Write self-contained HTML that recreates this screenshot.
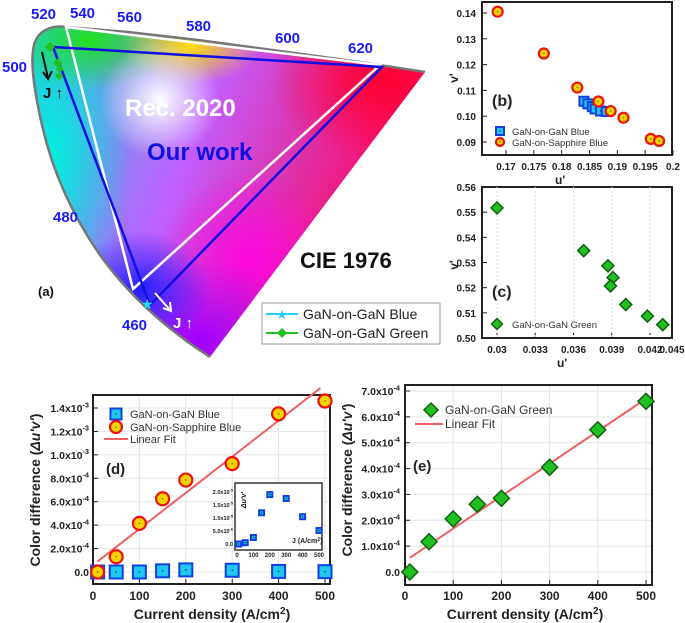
<!DOCTYPE html>
<html><head><meta charset="utf-8"><style>
html,body{margin:0;padding:0;background:#fff;}
svg{display:block;font-family:"Liberation Sans",Arial,sans-serif;}
</style></head><body>
<svg id="fig" width="685" height="623" viewBox="0 0 685 623" xmlns="http://www.w3.org/2000/svg">
<defs>
<clipPath id="hs"><path d="M425,72 L360,62 L287,52 L198,40 L128,32 L66,27 C52,25 38,30 34,45 C30,62 34,90 42,125 C52,170 72,215 100,255 C125,290 160,325 210,357 Z"/></clipPath>
<linearGradient id="base" x1="0" y1="0" x2="1" y2="0.3"><stop offset="0" stop-color="#00e0d0"/><stop offset="0.5" stop-color="#c060ff"/><stop offset="1" stop-color="#ff0050"/></linearGradient>
<radialGradient id="gG" cx="0.5" cy="0.5" r="0.5"><stop offset="0" stop-color="#20e020" stop-opacity="1"/><stop offset="1" stop-color="#20e020" stop-opacity="0"/></radialGradient>
<radialGradient id="gY" cx="0.5" cy="0.5" r="0.5"><stop offset="0" stop-color="#ffe000" stop-opacity="1"/><stop offset="1" stop-color="#ffe000" stop-opacity="0"/></radialGradient>
<radialGradient id="gR" cx="0.5" cy="0.5" r="0.5"><stop offset="0" stop-color="#ff0030" stop-opacity="1"/><stop offset="1" stop-color="#ff0030" stop-opacity="0"/></radialGradient>
<radialGradient id="gB" cx="0.5" cy="0.5" r="0.5"><stop offset="0" stop-color="#2020ff" stop-opacity="1"/><stop offset="1" stop-color="#2020ff" stop-opacity="0"/></radialGradient>
<radialGradient id="gP" cx="0.5" cy="0.5" r="0.5"><stop offset="0" stop-color="#a000ff" stop-opacity="1"/><stop offset="1" stop-color="#a000ff" stop-opacity="0"/></radialGradient>
<radialGradient id="gC" cx="0.5" cy="0.5" r="0.5"><stop offset="0" stop-color="#00f0e0" stop-opacity="1"/><stop offset="1" stop-color="#00f0e0" stop-opacity="0"/></radialGradient>
<radialGradient id="gW" cx="0.5" cy="0.5" r="0.5"><stop offset="0" stop-color="#ffffff" stop-opacity="1"/><stop offset="1" stop-color="#ffffff" stop-opacity="0"/></radialGradient>
<radialGradient id="gM" cx="0.5" cy="0.5" r="0.5"><stop offset="0" stop-color="#ff00e0" stop-opacity="0.9"/><stop offset="1" stop-color="#ff00e0" stop-opacity="0"/></radialGradient>
</defs>

<!-- Panel (a) CIE -->
<g>
<g clip-path="url(#hs)">
<rect x="0" y="0" width="440" height="360" fill="url(#base)"/>
<ellipse cx="50" cy="160" rx="80" ry="160" fill="url(#gC)"/>
<ellipse cx="250" cy="260" rx="90" ry="90" fill="url(#gM)"/>
<ellipse cx="200" cy="340" rx="110" ry="80" fill="url(#gP)"/>
<ellipse cx="140" cy="290" rx="70" ry="60" fill="url(#gB)"/>
<ellipse cx="90" cy="40" rx="90" ry="50" fill="url(#gG)"/>
<ellipse cx="190" cy="45" rx="70" ry="40" fill="url(#gY)"/>
<ellipse cx="380" cy="80" rx="110" ry="80" fill="url(#gR)"/>
<ellipse cx="160" cy="100" rx="60" ry="60" fill="url(#gW)"/>
</g>
<path d="M425,72 L360,62 L287,52 L198,40 L128,32 L66,27 C52,25 38,30 34,45 C30,62 34,90 42,125 C52,170 72,215 100,255 C125,290 160,325 210,357" fill="none" stroke="#777" stroke-width="2.5"/>
<polygon points="66,27 380,65 133,289" fill="none" stroke="#fff" stroke-width="2.5"/>
<polygon points="53,47 382,67 150,305" fill="none" stroke="#1010e0" stroke-width="2.5"/>
<g fill="#1a1aff" font-weight="bold" font-size="15">
<text x="31" y="19">520</text><text x="70" y="18">540</text><text x="117" y="22">560</text><text x="186" y="31">580</text><text x="275" y="43">600</text><text x="348" y="53">620</text><text x="2" y="72">500</text><text x="53" y="222">480</text><text x="122" y="330">460</text>
</g>
<text x="125" y="116" font-size="24" font-weight="bold" fill="#fff">Rec. 2020</text>
<text x="147" y="160" font-size="24" font-weight="bold" fill="#1010e0">Our work</text>
<text x="300" y="268" font-size="22" font-weight="bold" fill="#111">CIE 1976</text>
<text x="38" y="296" font-size="13" font-weight="bold" fill="#111">(a)</text>
<path d="M42,52 L48,78 M43,72 L48,79 L52,71" stroke="#111" stroke-width="2" fill="none"/>
<text x="43" y="98" font-size="15" font-weight="bold" fill="#111">J ↑</text>
<g fill="#20c020"><path d="M50,42 l5,5 -5,5 -5,-5z"/><path d="M58,58 l5,5 -5,5 -5,-5z"/><path d="M60,65 l4,4 -4,4 -4,-4z"/><path d="M59,72 l4,4 -4,4 -4,-4z"/></g>
<path d="M155,293 L170,310 M163,308 L171,311 L170,302" stroke="#fff" stroke-width="2" fill="none"/>
<text x="173" y="328" font-size="15" font-weight="bold" fill="#fff">J ↑</text>
<text x="141" y="309" font-size="14" fill="#20e0ff">★</text>
</g>
<g>
<rect x="262" y="303" width="178" height="41" fill="#fff" stroke="#999"/>
<line x1="266" y1="314" x2="298" y2="314" stroke="#20d0ff" stroke-width="2"/><text x="276" y="319" font-size="13" fill="#20d0ff">★</text>
<text x="303" y="319" font-size="14" fill="#222">GaN-on-GaN Blue</text>
<line x1="266" y1="333" x2="298" y2="333" stroke="#20c020" stroke-width="2"/><path d="M282,328 l5,5 -5,5 -5,-5z" fill="#20c020"/>
<text x="303" y="338" font-size="14" fill="#222">GaN-on-GaN Green</text>
</g>

<g id="pb"></g>
<g id="pc"></g>
<g id="pd"></g>
<g id="pe"></g>
</svg>
<script>
// Panel b data
const bBlueU=[0.1840,0.1847,0.1855,0.1860,0.1870,0.1880];
const bBlueV=[0.1058,0.1048,0.1037,0.1028,0.1020,0.1018];
const bSapU=[0.1685,0.1768,0.1828,0.1866,0.1888,0.1911,0.1960,0.1975];
const bSapV=[0.1405,0.1243,0.1111,0.1057,0.1020,0.0994,0.0912,0.0904];
const bXTicks=[0.17,0.175,0.18,0.185,0.19,0.195,0.2];
const bXLabels=['0.17','0.175','0.18','0.185','0.19','0.195','0.2'];
const bYTicks=[0.09,0.10,0.11,0.12,0.13,0.14];
const bYLabels=['0.09','0.10','0.11','0.12','0.13','0.14'];
// Panel c data
const cU=[0.0300,0.0368,0.0387,0.0391,0.0389,0.0401,0.0418,0.0430];
const cV=[0.5517,0.5347,0.5287,0.5240,0.5207,0.5133,0.5087,0.5053];
const cXTicks=[0.03,0.033,0.036,0.039,0.042];
const cXLabels=['0.03','0.033','0.036','0.039','0.042'];
const cYTicks=[0.50,0.51,0.52,0.53,0.54,0.55,0.56];
const cYLabels=['0.50','0.51','0.52','0.53','0.54','0.55','0.56'];
// Panel d data
const dJ=[10,50,100,150,200,300,400,500];
const dSap=[0.0,1.3e-4,4.15e-4,6.25e-4,7.85e-4,9.25e-4,1.35e-3,1.46e-3];
const dGaN=[0.0,0.0,0.0,1.0e-5,1.8e-5,1.5e-5,0.5e-5,0.3e-5];
const dFit=[0.9e-4,1.57e-3];
const dFitJ=[10,490];
const dYTicks=[0,2e-4,4e-4,6e-4,8e-4,1e-3,1.2e-3,1.4e-3];
const dYLabels=['0.0','2.0x10','4.0x10','6.0x10','8.0x10','1.0x10','1.2x10','1.4x10'];
const dYExp=['','-4','-4','-4','-4','-3','-3','-3'];
const dXTicks=[0,100,200,300,400,500];
const insetVals=[0.0,0.05e-5,0.25e-5,1.2e-5,1.9e-5,1.75e-5,1.05e-5,0.52e-5];
const insetYTicks=[0,5e-6,1e-5,1.5e-5,2e-5];
const insetYLabels=['0.0','5.0x10','1.0x10','1.5x10','2.0x10'];
const insetYExp=['','-6','-5','-5','-5'];
// Panel e data
const eJ=[10,50,100,150,200,300,400,500];
const eVal=[0.0,1.17e-4,2.05e-4,2.62e-4,2.85e-4,4.05e-4,5.5e-4,6.6e-4];
const eFit=[0.55e-4,6.7e-4];
const eFitJ=[10,500];
const eYTicks=[0,1e-4,2e-4,3e-4,4e-4,5e-4,6e-4,7e-4];
const eYLabels=['0.0','1.0x10','2.0x10','3.0x10','4.0x10','5.0x10','6.0x10','7.0x10'];
const eYExp=['','-4','-4','-4','-4','-4','-4','-4'];

const NS='http://www.w3.org/2000/svg';
function mk(parent,tag,attrs,txt){const e=document.createElementNS(NS,tag);for(const k in attrs)e.setAttribute(k,attrs[k]);if(txt!==undefined)e.textContent=txt;parent.appendChild(e);return e;}
function lin(d0,d1,r0,r1){return v=>r0+(v-d0)/(d1-d0)*(r1-r0);}
function frame(g,x0,y0,x1,y1){
  const r=mk(g,'rect',{x:x0,y:y0,width:x1-x0,height:y1-y0,fill:'none',stroke:'#222','stroke-width':2});
  
  
}
function circ(g,x,y,r){
  const c=mk(g,'circle',{cx:x,cy:y,r:r,fill:'#f5d500',stroke:'#f01010','stroke-width':2.2});
  
  
  mk(g,'circle',{cx:x,cy:y,r:0.9,fill:'#a06000'});
}
function sq(g,x,y,s){
  const r=mk(g,'rect',{x:x-s,y:y-s,width:2*s,height:2*s,fill:'#20c8f0',stroke:'#1040e0','stroke-width':2});
  
  
  mk(g,'circle',{cx:x,cy:y,r:0.8,fill:'#004080'});
}
function dia(g,x,y,s){
  const p=mk(g,'path',{d:`M${x},${y-s} L${x+s},${y} L${x},${y+s} L${x-s},${y} Z`,fill:'#20c020',stroke:'#106010','stroke-width':1.5});
  
  
}
function ylab(g,x,y,lab,exp,fs){
  const t=mk(g,'text',{x:x,y:y,'text-anchor':'end','font-size':fs,'font-weight':'bold',fill:'#222'});
  
  
  t.textContent=lab;
  if(exp){mk(t,'tspan',{dy:-fs*0.45,'font-size':fs*0.7},exp);}
}

// ---- Panel b
(function(){
  const g=document.getElementById('pb');
  const X=lin(0.17,0.2,506,673), Y=lin(0.14,0.09,13,142);
  frame(g,482,2,672,155);
  bXTicks.forEach((v,i)=>{mk(g,'line',{x1:X(v),y1:155,x2:X(v),y2:150,stroke:'#222'});const t=mk(g,'text',{x:X(v),y:170,'text-anchor':'middle','font-size':10,'font-weight':'bold',fill:'#222'},bXLabels[i]);});
  bYTicks.forEach((v,i)=>{mk(g,'line',{x1:482,y1:Y(v),x2:487,y2:Y(v),stroke:'#222'});const t=mk(g,'text',{x:476,y:Y(v)+4,'text-anchor':'end','font-size':10,'font-weight':'bold',fill:'#222'},bYLabels[i]);});
  bBlueU.forEach((u,i)=>sq(g,X(u),Y(bBlueV[i]),4.5));
  bSapU.forEach((u,i)=>circ(g,X(u),Y(bSapV[i]),5));
  let t=mk(g,'text',{x:492,y:106,'font-size':16,'font-weight':'bold',fill:'#222'},'(b)');
  t=mk(g,'text',{x:555,y:184,'font-size':12,'font-weight':'bold',fill:'#222'},"u'");
  t=mk(g,'text',{x:458,y:78,'font-size':12,'font-weight':'bold',fill:'#222',transform:'rotate(-90 458 78)','text-anchor':'middle'},"v'");
  sq(g,500,131,4);t=mk(g,'text',{x:512,y:135,'font-size':9.5,fill:'#333'},'GaN-on-GaN Blue');
  circ(g,500,142,4);t=mk(g,'text',{x:512,y:146,'font-size':9.5,fill:'#333'},'GaN-on-Sapphire Blue');
})();
// ---- Panel c
(function(){
  const g=document.getElementById('pc');
  const X=lin(0.03,0.042,497,650), Y=lin(0.56,0.50,187,338);
  frame(g,482,187,672,338);
  cXTicks.forEach((v,i)=>{mk(g,'line',{x1:X(v),y1:338,x2:X(v),y2:333,stroke:'#222'});mk(g,'line',{x1:X(v),y1:187,x2:X(v),y2:338,stroke:'#ddd','stroke-dasharray':'2,2'});const t=mk(g,'text',{x:X(v),y:353,'text-anchor':'middle','font-size':10,'font-weight':'bold',fill:'#222'},cXLabels[i]);});
  let t=mk(g,'text',{x:672,y:353,'text-anchor':'middle','font-size':10,'font-weight':'bold',fill:'#222'},'0.045');
  cYTicks.forEach((v,i)=>{mk(g,'line',{x1:482,y1:Y(v),x2:487,y2:Y(v),stroke:'#222'});const tt=mk(g,'text',{x:476,y:Y(v)+4,'text-anchor':'end','font-size':10,'font-weight':'bold',fill:'#222'},cYLabels[i]);});
  cU.forEach((u,i)=>dia(g,X(u),Y(cV[i]),6));
  t=mk(g,'text',{x:492,y:297,'font-size':16,'font-weight':'bold',fill:'#222'},'(c)');
  t=mk(g,'text',{x:557,y:367,'font-size':12,'font-weight':'bold',fill:'#222'},"u'");
  t=mk(g,'text',{x:458,y:265,'font-size':12,'font-weight':'bold',fill:'#222',transform:'rotate(-90 458 265)','text-anchor':'middle'},"v'");
  dia(g,497,324,5.5);t=mk(g,'text',{x:512,y:328,'font-size':9.5,fill:'#333'},'GaN-on-GaN Green');
})();
// ---- Panel d
(function(){
  const g=document.getElementById('pd');
  const X=lin(0,500,93,325), Y=lin(0,1.4e-3,572,408);
  dYTicks.forEach(v=>mk(g,'line',{x1:93,y1:Y(v),x2:330,y2:Y(v),stroke:'#e4e4e4'}));
  dXTicks.forEach(v=>mk(g,'line',{x1:X(v),y1:395,x2:X(v),y2:584,stroke:'#e4e4e4'}));
  frame(g,93,395,330,584);
  dXTicks.forEach(v=>{mk(g,'line',{x1:X(v),y1:584,x2:X(v),y2:579,stroke:'#222'});const t=mk(g,'text',{x:X(v),y:600,'text-anchor':'middle','font-size':12,'font-weight':'bold',fill:'#222'},String(v));});
  dYTicks.forEach((v,i)=>{mk(g,'line',{x1:93,y1:Y(v),x2:98,y2:Y(v),stroke:'#222'});ylab(g,89,Y(v)+4,dYLabels[i],dYExp[i],10.5);});
  const fl=mk(g,'line',{x1:X(dFitJ[0]),y1:Y(dFit[0]),x2:X(dFitJ[1]),y2:Y(dFit[1]),stroke:'#f06060','stroke-width':2});
  
  dJ.forEach((j,i)=>sq(g,X(j),Y(dGaN[i]),6.5));
  dJ.forEach((j,i)=>circ(g,X(j),Y(dSap[i]),6.5));
  sq(g,116,414,5.5);let t=mk(g,'text',{x:130,y:418,'font-size':11,fill:'#333'},'GaN-on-GaN Blue');
  circ(g,116,427,6);t=mk(g,'text',{x:130,y:431,'font-size':11,fill:'#333'},'GaN-on-Sapphire Blue');
  mk(g,'line',{x1:104,y1:439,x2:128,y2:439,stroke:'#f06060','stroke-width':2});t=mk(g,'text',{x:130,y:443,'font-size':11,fill:'#333'},'Linear Fit');
  t=mk(g,'text',{x:106,y:474,'font-size':15,'font-weight':'bold',fill:'#222'},'(d)');
  t=mk(g,'text',{x:212,y:619,'text-anchor':'middle','font-size':14,'font-weight':'bold',fill:'#222'},'Current density (A/cm');mk(t,'tspan',{dy:-5,'font-size':10},'2');mk(t,'tspan',{dy:5},')');
  t=mk(g,'text',{x:40,y:490,'text-anchor':'middle','font-size':14,'font-weight':'bold',fill:'#222',transform:'rotate(-90 40 490)'},"Color difference (");mk(t,'tspan',{'font-style':'italic'},"Δu'v'");mk(t,'tspan',{},')');
  // inset
  const ig=mk(g,'g',{});
  mk(ig,'rect',{x:235,y:483,width:87,height:67,fill:'#fff',stroke:'#333','stroke-width':1.5});
  const IX=lin(0,500,237,319), IY=lin(0,2e-5,544,492);
  insetYTicks.forEach((v,i)=>ylab(ig,233,IY(v)+2,insetYLabels[i],insetYExp[i],5.5));
  dXTicks.forEach(v=>{const tt=mk(ig,'text',{x:IX(v),y:557,'text-anchor':'middle','font-size':6,'font-weight':'bold',fill:'#222'},String(v));});
  dJ.forEach((j,i)=>sq(ig,IX(j),IY(insetVals[i]),2.5));
  t=mk(ig,'text',{x:292,y:543,'font-size':7,'font-weight':'bold',fill:'#222'},'J (A/cm');mk(t,'tspan',{dy:-2,'font-size':5},'2');mk(t,'tspan',{dy:2},')');
  t=mk(ig,'text',{x:246,y:500,'font-size':7,'font-weight':'bold','font-style':'italic',fill:'#222',transform:'rotate(-90 246 500)','text-anchor':'middle'},"Δu'v'");
})();
// ---- Panel e
(function(){
  const g=document.getElementById('pe');
  const X=lin(0,500,405,646), Y=lin(0,7e-4,572,391);
  eYTicks.forEach(v=>mk(g,'line',{x1:405,y1:Y(v),x2:652,y2:Y(v),stroke:'#e4e4e4'}));
  dXTicks.forEach(v=>mk(g,'line',{x1:X(v),y1:385,x2:X(v),y2:585,stroke:'#e4e4e4'}));
  frame(g,405,385,652,585);
  dXTicks.forEach(v=>{mk(g,'line',{x1:X(v),y1:585,x2:X(v),y2:580,stroke:'#222'});const t=mk(g,'text',{x:X(v),y:600,'text-anchor':'middle','font-size':12,'font-weight':'bold',fill:'#222'},String(v));});
  eYTicks.forEach((v,i)=>{mk(g,'line',{x1:405,y1:Y(v),x2:410,y2:Y(v),stroke:'#222'});ylab(g,400,Y(v)+4,eYLabels[i],eYExp[i],10.5);});
  const fl=mk(g,'line',{x1:X(eFitJ[0]),y1:Y(eFit[0]),x2:X(eFitJ[1]),y2:Y(eFit[1]),stroke:'#f06060','stroke-width':2});
  
  eJ.forEach((j,i)=>dia(g,X(j),Y(eVal[i]),8));
  dia(g,431,410,7);let t=mk(g,'text',{x:445,y:414,'font-size':12,fill:'#333'},'GaN-on-GaN Green');
  mk(g,'line',{x1:415,y1:424,x2:443,y2:424,stroke:'#f06060','stroke-width':2});t=mk(g,'text',{x:445,y:428,'font-size':12,fill:'#333'},'Linear Fit');
  t=mk(g,'text',{x:413,y:471,'font-size':15,'font-weight':'bold',fill:'#222'},'(e)');
  t=mk(g,'text',{x:525,y:619,'text-anchor':'middle','font-size':14,'font-weight':'bold',fill:'#222'},'Current density (A/cm');mk(t,'tspan',{dy:-5,'font-size':10},'2');mk(t,'tspan',{dy:5},')');
  t=mk(g,'text',{x:352,y:480,'text-anchor':'middle','font-size':14,'font-weight':'bold',fill:'#222',transform:'rotate(-90 352 480)'},"Color difference (");mk(t,'tspan',{'font-style':'italic'},"Δu'v'");mk(t,'tspan',{},')');
})();
</script>
</body></html>
